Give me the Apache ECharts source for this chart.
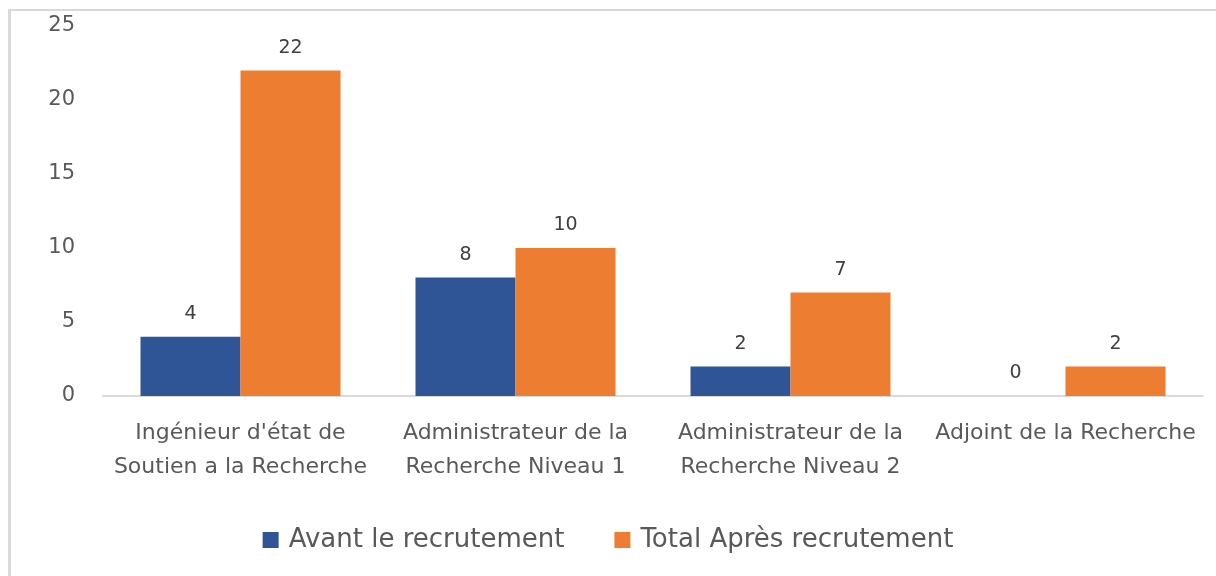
<!DOCTYPE html>
<html>
<head>
<meta charset="utf-8">
<script src="https://cdn.jsdelivr.net/npm/echarts@6/dist/echarts.min.js"></script>
<style>
	html, body { margin: 0; padding: 0; background: #fff; }
	#frame { position: absolute; left: 8px; top: 9px; width: 1208px; height: 567px; border-top: 2px solid #d9d9d9; border-left: 3px solid #d9d9d9; box-sizing: border-box; }
	#chart { position: absolute; left: 0; top: 0; width: 1216px; height: 576px; }
</style>
</head>
<body>
<div id="frame"></div>
<div id="chart"></div>
<script>
const categories = [
	"Ingénieur d'état de\nSoutien a la Recherche",
	"Administrateur de la\nRecherche Niveau 1",
	"Administrateur de la\nRecherche Niveau 2",
	"Adjoint de la Recherche",
];
const avantValues = [4, 8, 2, 0];
const apresValues = [22, 10, 7, 2];
const seriesNames = ["Avant le recrutement", "Total Après recrutement"];

const font = "DejaVu Sans, sans-serif";

const chart = echarts.init(document.getElementById("chart"));

function barSeries(name, data, color) {
	return {
		name,
		type: "bar",
		data,
		barWidth: 100,
		barGap: "0%",
		itemStyle: { color },
		label: {
			show: true,
			position: "top",
			distance: 13,
			color: "#404040",
			fontSize: 19,
			fontFamily: font,
		},
	};
}

chart.setOption({
	animation: false,
	textStyle: { fontFamily: font },
	grid: { left: 103, right: 13, top: 26, bottom: 180, containLabel: false },
	legend: {
		bottom: 18,
		left: "center",
		itemWidth: 16,
		itemHeight: 16,
		itemGap: 50,
		icon: "rect",
		textStyle: { fontSize: 26, color: "#595959", fontFamily: font, padding: [0, 0, 0, 5] },
		data: seriesNames,
	},
	xAxis: {
		type: "category",
		data: categories,
		axisLine: { lineStyle: { color: "#d9d9d9", width: 2 } },
		axisTick: { show: false },
		axisLabel: {
			color: "#595959",
			fontSize: 22,
			lineHeight: 34,
			margin: 20,
			interval: 0,
			fontFamily: font,
		},
	},
	yAxis: {
		type: "value",
		min: 0,
		max: 25,
		interval: 5,
		splitLine: { show: false },
		axisLine: { show: false },
		axisTick: { show: false },
		axisLabel: { color: "#595959", fontSize: 21, margin: 28, fontFamily: font },
	},
	series: [
		barSeries(seriesNames[0], avantValues, "#2f5597"),
		barSeries(seriesNames[1], apresValues, "#ed7d31"),
	],
});
</script>
</body>
</html>
